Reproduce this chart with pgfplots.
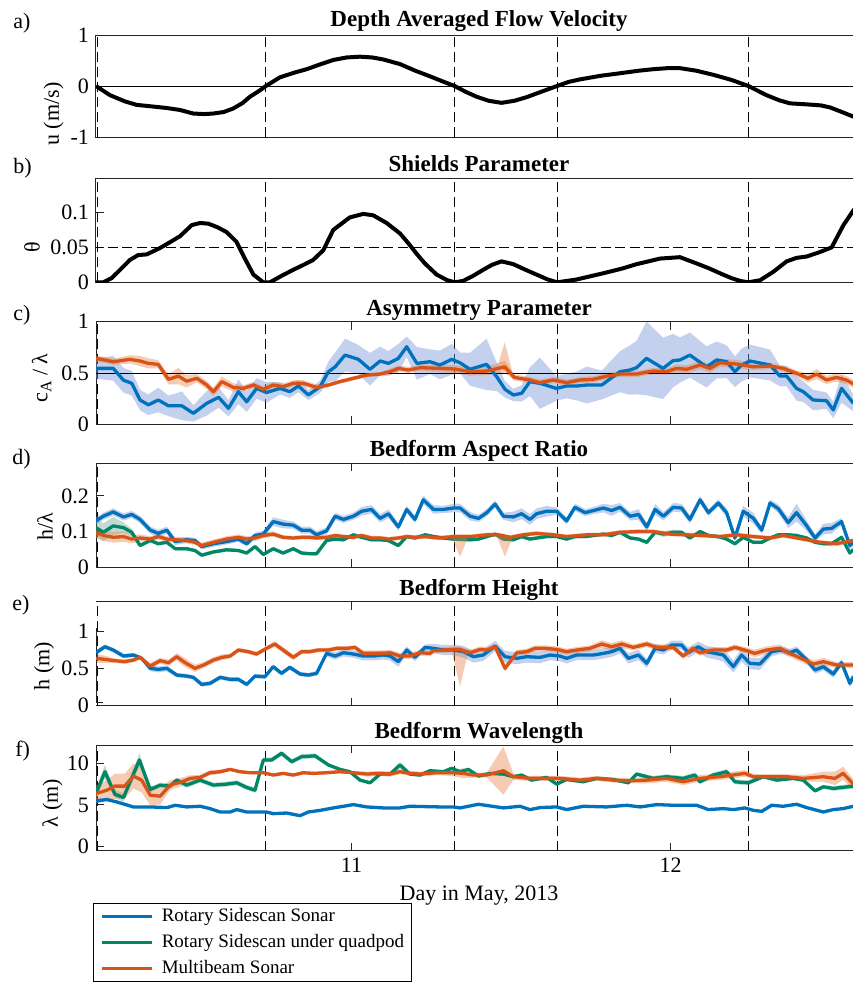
\documentclass[border=0pt]{standalone}
\usepackage{fontspec}
\setmainfont{Liberation Serif}
\usepackage{pgfplots}
\usepackage{pgfplotstable}
\pgfplotsset{compat=1.18}
\usepgfplotslibrary{fillbetween}

\definecolor{cblue}{rgb}{0,0.447,0.741}
\definecolor{corange}{rgb}{0.85,0.325,0.098}
\definecolor{cgreen}{rgb}{0,0.53,0.40}
\definecolor{bblue}{rgb}{0.48,0.60,0.85}
\definecolor{borange}{rgb}{0.90,0.50,0.25}
\definecolor{bgreen}{rgb}{0.30,0.60,0.50}

% ---------------- forcing ----------------
\pgfplotstableread{
t u
10.200 0.00
10.244 -0.18
10.290 -0.30
10.327 -0.37
10.359 -0.39
10.420 -0.43
10.463 -0.47
10.505 -0.54
10.540 -0.55
10.567 -0.54
10.600 -0.51
10.630 -0.44
10.660 -0.33
10.682 -0.21
10.710 -0.10
10.732 0.00
10.776 0.17
10.820 0.26
10.860 0.33
10.900 0.42
10.943 0.51
10.985 0.56
11.027 0.575
11.065 0.56
11.100 0.52
11.152 0.43
11.200 0.30
11.250 0.18
11.290 0.08
11.323 0.00
11.360 -0.12
11.392 -0.21
11.430 -0.29
11.470 -0.33
11.510 -0.29
11.548 -0.22
11.600 -0.10
11.644 0.00
11.680 0.08
11.716 0.13
11.780 0.20
11.841 0.25
11.900 0.30
11.946 0.33
11.990 0.35
12.029 0.35
12.080 0.30
12.133 0.22
12.190 0.12
12.243 0.00
12.300 -0.18
12.340 -0.28
12.373 -0.34
12.426 -0.36
12.470 -0.38
12.499 -0.42
12.540 -0.52
12.572 -0.60
12.600 -0.67
}\vel

\pgfplotstableread{
t s
10.200 0.000
10.223 0.000
10.249 0.006
10.280 0.020
10.306 0.032
10.332 0.039
10.359 0.040
10.400 0.049
10.430 0.057
10.463 0.066
10.500 0.082
10.526 0.085
10.552 0.084
10.580 0.079
10.609 0.072
10.640 0.058
10.665 0.035
10.693 0.011
10.724 0.000
10.745 0.000
10.780 0.009
10.818 0.018
10.850 0.025
10.880 0.032
10.912 0.046
10.943 0.075
10.995 0.093
11.037 0.098
11.068 0.096
11.110 0.085
11.152 0.070
11.180 0.055
11.204 0.041
11.230 0.027
11.267 0.011
11.300 0.003
11.323 0.000
11.350 0.002
11.380 0.009
11.413 0.018
11.440 0.025
11.470 0.030
11.507 0.026
11.545 0.018
11.580 0.011
11.615 0.004
11.644 0.000
11.705 0.004
11.789 0.013
11.850 0.020
11.893 0.026
11.930 0.030
11.966 0.034
12.029 0.036
12.081 0.027
12.120 0.020
12.154 0.013
12.190 0.006
12.217 0.002
12.243 0.000
12.280 0.003
12.321 0.015
12.363 0.030
12.394 0.035
12.426 0.037
12.465 0.043
12.504 0.050
12.541 0.082
12.572 0.103
12.600 0.120
}\shields

% ---------------- asymmetry ----------------
\pgfplotstableread{
t y e
10.200 0.545 0.10
10.254 0.545 0.12
10.286 0.430 0.12
10.312 0.400 0.12
10.338 0.237 0.10
10.364 0.190 0.10
10.395 0.237 0.12
10.427 0.180 0.10
10.469 0.180 0.14
10.505 0.107 0.08
10.547 0.205 0.12
10.584 0.263 0.10
10.615 0.156 0.08
10.646 0.318 0.12
10.672 0.220 0.10
10.703 0.350 0.10
10.734 0.310 0.10
10.776 0.350 0.06
10.807 0.318 0.06
10.834 0.373 0.06
10.865 0.286 0.05
10.902 0.367 0.06
10.928 0.513 0.10
10.949 0.560 0.14
10.980 0.675 0.16
11.022 0.633 0.14
11.058 0.536 0.16
11.090 0.617 0.14
11.116 0.594 0.12
11.147 0.643 0.14
11.173 0.756 0.10
11.205 0.594 0.16
11.246 0.610 0.12
11.277 0.578 0.14
11.314 0.633 0.15
11.340 0.600 0.10
11.371 0.536 0.16
11.423 0.584 0.25
11.455 0.464 0.14
11.481 0.341 0.08
11.507 0.286 0.06
11.533 0.302 0.08
11.559 0.416 0.14
11.590 0.400 0.25
11.642 0.350 0.12
11.674 0.373 0.12
11.705 0.373 0.14
11.737 0.383 0.18
11.784 0.383 0.14
11.841 0.513 0.20
11.872 0.529 0.24
11.893 0.552 0.26
11.924 0.643 0.36
11.976 0.545 0.30
12.007 0.620 0.26
12.029 0.627 0.22
12.060 0.675 0.22
12.112 0.560 0.20
12.144 0.627 0.18
12.175 0.610 0.16
12.201 0.513 0.15
12.222 0.578 0.16
12.248 0.617 0.16
12.311 0.578 0.15
12.342 0.470 0.10
12.363 0.470 0.10
12.394 0.350 0.12
12.415 0.318 0.10
12.446 0.237 0.10
12.488 0.230 0.08
12.509 0.140 0.08
12.535 0.350 0.14
12.572 0.205 0.08
}\cB

\pgfplotstableread{
t y e
10.200 0.643 0.03
10.254 0.610 0.03
10.306 0.633 0.04
10.338 0.617 0.05
10.364 0.594 0.05
10.395 0.584 0.04
10.427 0.438 0.05
10.458 0.470 0.08
10.484 0.420 0.06
10.516 0.448 0.04
10.547 0.383 0.04
10.568 0.318 0.04
10.594 0.416 0.05
10.630 0.360 0.04
10.661 0.350 0.03
10.693 0.383 0.03
10.724 0.341 0.03
10.755 0.383 0.03
10.786 0.367 0.03
10.818 0.400 0.03
10.849 0.400 0.03
10.891 0.360 0.03
10.928 0.383 0.02
10.964 0.416 0.02
11.006 0.448 0.02
11.048 0.480 0.02
11.090 0.490 0.02
11.121 0.513 0.03
11.147 0.545 0.03
11.178 0.529 0.03
11.215 0.552 0.03
11.277 0.545 0.04
11.324 0.539 0.04
11.371 0.513 0.04
11.423 0.519 0.04
11.480 0.560 0.06
11.510 0.457 0.03
11.559 0.432 0.03
11.590 0.406 0.03
11.632 0.432 0.03
11.674 0.406 0.03
11.716 0.432 0.03
11.757 0.438 0.03
11.800 0.470 0.03
11.841 0.490 0.03
11.893 0.490 0.03
11.945 0.519 0.03
11.987 0.513 0.03
12.018 0.545 0.04
12.050 0.536 0.04
12.092 0.578 0.04
12.123 0.545 0.04
12.154 0.600 0.04
12.206 0.588 0.04
12.259 0.560 0.03
12.311 0.568 0.03
12.352 0.545 0.03
12.394 0.497 0.03
12.430 0.448 0.04
12.457 0.490 0.05
12.488 0.432 0.04
12.519 0.457 0.04
12.550 0.432 0.04
12.572 0.393 0.04
}\cO

% ---------------- aspect ratio ----------------
\pgfplotstableread{
t y e
10.200 0.130 0.010
10.223 0.143 0.010
10.254 0.155 0.010
10.286 0.141 0.010
10.312 0.148 0.010
10.338 0.134 0.010
10.370 0.104 0.010
10.395 0.095 0.010
10.422 0.104 0.010
10.448 0.072 0.010
10.484 0.077 0.008
10.510 0.075 0.008
10.531 0.058 0.008
10.568 0.066 0.008
10.609 0.072 0.008
10.646 0.079 0.008
10.672 0.066 0.008
10.698 0.089 0.008
10.724 0.093 0.010
10.755 0.128 0.012
10.786 0.121 0.012
10.818 0.118 0.010
10.844 0.104 0.010
10.870 0.104 0.010
10.891 0.091 0.010
10.922 0.102 0.010
10.949 0.143 0.010
10.975 0.134 0.010
11.006 0.143 0.010
11.032 0.157 0.012
11.063 0.162 0.012
11.090 0.137 0.012
11.116 0.150 0.012
11.147 0.113 0.010
11.173 0.162 0.010
11.199 0.134 0.010
11.225 0.189 0.012
11.257 0.162 0.012
11.288 0.162 0.010
11.319 0.166 0.012
11.340 0.166 0.012
11.372 0.143 0.012
11.398 0.137 0.010
11.424 0.153 0.010
11.450 0.177 0.010
11.476 0.143 0.010
11.507 0.141 0.015
11.533 0.150 0.015
11.559 0.134 0.015
11.580 0.150 0.015
11.611 0.157 0.015
11.643 0.157 0.010
11.674 0.130 0.010
11.700 0.168 0.010
11.732 0.153 0.010
11.758 0.159 0.010
11.789 0.166 0.012
11.815 0.159 0.015
11.841 0.168 0.012
11.873 0.143 0.012
11.899 0.148 0.015
11.925 0.113 0.012
11.951 0.162 0.015
11.977 0.143 0.012
12.008 0.168 0.012
12.034 0.166 0.012
12.060 0.134 0.012
12.092 0.189 0.010
12.118 0.153 0.010
12.149 0.180 0.010
12.175 0.153 0.012
12.201 0.082 0.010
12.227 0.157 0.015
12.259 0.137 0.015
12.285 0.104 0.010
12.311 0.180 0.010
12.337 0.164 0.012
12.368 0.125 0.015
12.394 0.153 0.025
12.426 0.116 0.015
12.452 0.082 0.010
12.478 0.107 0.015
12.504 0.109 0.015
12.535 0.128 0.010
12.561 0.061 0.010
12.572 0.070 0.010
}\dB

\pgfplotstableread{
t y e
10.200 0.111 0.025
10.223 0.098 0.025
10.254 0.116 0.025
10.286 0.111 0.015
10.312 0.098 0.010
10.338 0.061 0.005
10.370 0.075 0.005
10.395 0.066 0.005
10.422 0.070 0.005
10.448 0.052 0.005
10.484 0.052 0.005
10.510 0.047 0.005
10.531 0.034 0.005
10.568 0.043 0.005
10.609 0.049 0.005
10.646 0.047 0.005
10.672 0.040 0.005
10.698 0.058 0.005
10.724 0.036 0.005
10.755 0.052 0.005
10.786 0.040 0.005
10.818 0.052 0.005
10.844 0.040 0.005
10.870 0.038 0.005
10.891 0.038 0.005
10.922 0.075 0.005
10.949 0.079 0.005
10.975 0.077 0.005
11.006 0.091 0.005
11.032 0.084 0.005
11.063 0.077 0.005
11.090 0.077 0.005
11.116 0.075 0.005
11.147 0.061 0.005
11.173 0.086 0.005
11.199 0.082 0.005
11.231 0.091 0.005
11.257 0.086 0.005
11.288 0.082 0.005
11.319 0.079 0.005
11.372 0.077 0.005
11.398 0.079 0.005
11.424 0.086 0.005
11.450 0.093 0.005
11.476 0.079 0.005
11.507 0.077 0.005
11.533 0.086 0.005
11.559 0.079 0.005
11.580 0.082 0.005
11.611 0.086 0.005
11.643 0.086 0.005
11.674 0.079 0.005
11.700 0.086 0.005
11.732 0.086 0.005
11.758 0.089 0.005
11.789 0.093 0.005
11.815 0.089 0.005
11.841 0.098 0.005
11.873 0.082 0.005
11.899 0.079 0.005
11.925 0.070 0.005
11.951 0.098 0.005
11.977 0.093 0.008
12.008 0.098 0.008
12.034 0.098 0.005
12.060 0.082 0.005
12.092 0.100 0.005
12.118 0.089 0.005
12.149 0.086 0.005
12.175 0.079 0.005
12.201 0.066 0.005
12.227 0.084 0.005
12.259 0.070 0.005
12.285 0.070 0.005
12.311 0.082 0.005
12.337 0.091 0.005
12.368 0.091 0.005
12.394 0.089 0.005
12.426 0.082 0.005
12.452 0.070 0.005
12.478 0.066 0.005
12.504 0.066 0.005
12.535 0.084 0.005
12.561 0.040 0.005
12.572 0.050 0.005
}\dG

\pgfplotstableread{
t y e
10.200 0.098 0.015
10.223 0.089 0.015
10.254 0.084 0.015
10.286 0.086 0.015
10.312 0.079 0.012
10.338 0.082 0.010
10.370 0.079 0.008
10.395 0.086 0.008
10.422 0.079 0.008
10.448 0.077 0.008
10.484 0.075 0.008
10.510 0.070 0.008
10.531 0.061 0.008
10.568 0.070 0.008
10.609 0.079 0.008
10.646 0.084 0.008
10.672 0.079 0.008
10.698 0.082 0.008
10.724 0.089 0.008
10.755 0.093 0.008
10.786 0.084 0.006
10.818 0.082 0.006
10.844 0.084 0.006
10.870 0.084 0.006
10.891 0.082 0.006
10.922 0.084 0.006
10.949 0.089 0.006
10.975 0.086 0.006
11.006 0.084 0.006
11.032 0.089 0.006
11.063 0.082 0.006
11.090 0.082 0.006
11.116 0.079 0.006
11.147 0.082 0.006
11.173 0.086 0.006
11.199 0.084 0.006
11.231 0.086 0.006
11.272 0.082 0.006
11.319 0.086 0.006
11.372 0.086 0.006
11.424 0.091 0.006
11.460 0.091 0.006
11.498 0.084 0.006
11.538 0.091 0.006
11.580 0.095 0.006
11.632 0.091 0.006
11.674 0.086 0.006
11.737 0.091 0.006
11.789 0.091 0.006
11.841 0.098 0.006
11.893 0.100 0.006
11.945 0.100 0.006
11.998 0.093 0.006
12.050 0.091 0.006
12.102 0.089 0.006
12.154 0.086 0.006
12.206 0.091 0.006
12.259 0.086 0.006
12.311 0.082 0.006
12.353 0.089 0.006
12.415 0.079 0.006
12.467 0.070 0.006
12.519 0.066 0.006
12.572 0.075 0.006
}\dO

% ---------------- height ----------------
\pgfplotstableread{
t y e
10.200 0.716 0.04
10.228 0.797 0.03
10.254 0.752 0.03
10.286 0.671 0.03
10.317 0.685 0.03
10.343 0.640 0.03
10.370 0.505 0.04
10.395 0.491 0.04
10.422 0.505 0.04
10.453 0.414 0.03
10.484 0.400 0.03
10.505 0.383 0.03
10.531 0.288 0.03
10.557 0.302 0.03
10.589 0.383 0.03
10.620 0.356 0.03
10.646 0.356 0.03
10.672 0.288 0.03
10.698 0.400 0.03
10.729 0.392 0.03
10.755 0.527 0.03
10.781 0.437 0.03
10.807 0.518 0.03
10.839 0.428 0.03
10.865 0.414 0.03
10.891 0.437 0.03
10.922 0.707 0.04
10.949 0.671 0.05
10.975 0.716 0.05
11.006 0.698 0.05
11.037 0.671 0.06
11.069 0.671 0.06
11.100 0.685 0.06
11.121 0.671 0.06
11.147 0.595 0.07
11.173 0.752 0.05
11.199 0.653 0.05
11.231 0.788 0.04
11.257 0.775 0.06
11.288 0.752 0.07
11.319 0.752 0.07
11.350 0.730 0.08
11.382 0.662 0.08
11.413 0.685 0.08
11.450 0.806 0.07
11.481 0.662 0.08
11.518 0.640 0.08
11.549 0.662 0.08
11.591 0.653 0.08
11.622 0.685 0.07
11.653 0.671 0.07
11.674 0.640 0.07
11.705 0.685 0.07
11.758 0.685 0.07
11.789 0.707 0.07
11.815 0.730 0.07
11.841 0.775 0.07
11.867 0.640 0.07
11.899 0.685 0.07
11.925 0.572 0.06
11.951 0.775 0.06
11.977 0.752 0.06
12.003 0.820 0.06
12.034 0.820 0.06
12.055 0.716 0.07
12.086 0.797 0.07
12.112 0.730 0.08
12.139 0.707 0.08
12.165 0.685 0.09
12.196 0.527 0.08
12.222 0.685 0.09
12.248 0.572 0.08
12.279 0.563 0.08
12.316 0.730 0.06
12.347 0.752 0.05
12.373 0.716 0.05
12.394 0.752 0.05
12.426 0.617 0.05
12.452 0.482 0.05
12.478 0.527 0.05
12.509 0.428 0.05
12.535 0.581 0.05
12.561 0.302 0.05
12.572 0.392 0.05
}\eB

\pgfplotstableread{
t y e
10.200 0.640 0.06
10.228 0.626 0.05
10.259 0.608 0.03
10.290 0.595 0.03
10.317 0.617 0.03
10.338 0.653 0.03
10.370 0.536 0.04
10.401 0.608 0.04
10.427 0.581 0.04
10.453 0.662 0.05
10.479 0.581 0.06
10.510 0.505 0.05
10.537 0.550 0.04
10.568 0.617 0.04
10.594 0.653 0.04
10.620 0.671 0.03
10.646 0.752 0.03
10.677 0.730 0.03
10.703 0.698 0.03
10.734 0.775 0.03
10.760 0.833 0.04
10.786 0.752 0.04
10.818 0.653 0.04
10.844 0.730 0.03
10.870 0.730 0.03
10.896 0.752 0.03
10.928 0.752 0.03
10.954 0.775 0.03
10.985 0.775 0.03
11.011 0.788 0.03
11.037 0.707 0.04
11.069 0.707 0.04
11.100 0.707 0.04
11.121 0.716 0.04
11.152 0.671 0.04
11.183 0.671 0.04
11.215 0.716 0.04
11.246 0.707 0.04
11.257 0.743 0.04
11.288 0.752 0.04
11.319 0.761 0.04
11.340 0.761 0.04
11.372 0.716 0.04
11.403 0.761 0.04
11.424 0.752 0.04
11.450 0.797 0.04
11.481 0.505 0.04
11.518 0.716 0.04
11.549 0.730 0.04
11.575 0.775 0.04
11.606 0.775 0.04
11.643 0.761 0.04
11.674 0.730 0.04
11.705 0.752 0.04
11.747 0.775 0.04
11.784 0.833 0.05
11.815 0.797 0.05
11.846 0.833 0.05
11.883 0.788 0.04
11.925 0.833 0.04
11.956 0.788 0.04
11.987 0.788 0.04
12.008 0.788 0.04
12.039 0.671 0.04
12.070 0.775 0.04
12.091 0.716 0.04
12.133 0.752 0.04
12.175 0.752 0.04
12.201 0.788 0.04
12.232 0.752 0.04
12.263 0.707 0.05
12.300 0.752 0.05
12.342 0.775 0.05
12.373 0.707 0.05
12.415 0.626 0.05
12.447 0.563 0.05
12.478 0.595 0.05
12.519 0.550 0.04
12.572 0.550 0.04
}\eO

% ---------------- wavelength ----------------
\pgfplotstableread{
t y e
10.200 5.48 0.30
10.234 5.65 0.20
10.265 5.36 0.15
10.317 4.76 0.10
10.370 4.76 0.10
10.422 4.68 0.10
10.448 4.96 0.10
10.484 4.76 0.10
10.526 4.84 0.10
10.557 4.56 0.10
10.589 4.15 0.10
10.620 4.15 0.10
10.641 4.44 0.10
10.672 4.15 0.10
10.703 4.15 0.10
10.734 4.15 0.10
10.755 3.95 0.10
10.797 4.03 0.10
10.839 3.71 0.10
10.865 4.15 0.10
10.902 4.35 0.10
10.943 4.64 0.10
10.975 4.84 0.10
11.006 5.04 0.10
11.048 4.76 0.10
11.100 4.64 0.10
11.152 4.64 0.10
11.183 4.84 0.10
11.277 4.76 0.10
11.319 4.76 0.10
11.340 4.64 0.10
11.398 5.08 0.10
11.476 4.64 0.10
11.528 4.84 0.10
11.559 4.44 0.10
11.591 4.68 0.10
11.643 4.76 0.10
11.674 4.44 0.10
11.726 4.84 0.10
11.799 4.76 0.10
11.862 4.96 0.10
11.904 4.76 0.10
11.956 5.04 0.10
12.008 4.96 0.10
12.081 4.96 0.10
12.118 4.44 0.10
12.165 4.56 0.10
12.196 4.44 0.10
12.232 4.64 0.10
12.259 4.35 0.10
12.285 4.23 0.10
12.316 4.96 0.10
12.352 4.84 0.10
12.394 5.08 0.10
12.426 4.68 0.10
12.478 4.15 0.10
12.509 4.44 0.10
12.540 4.56 0.10
12.572 4.84 0.10
}\fB

\pgfplotstableread{
t y e
10.200 6.37 0.50
10.228 8.99 0.80
10.259 6.29 0.50
10.286 5.89 0.50
10.336 10.40 0.80
10.370 6.85 0.30
10.401 7.38 0.30
10.432 7.26 0.30
10.453 7.98 0.30
10.484 7.38 0.30
10.526 7.98 0.30
10.568 7.38 0.30
10.609 7.50 0.30
10.641 7.66 0.30
10.672 7.10 0.30
10.698 6.77 0.30
10.724 10.40 0.30
10.750 10.40 0.30
10.781 11.20 0.30
10.813 10.20 0.30
10.844 10.80 0.30
10.886 10.90 0.30
10.928 9.80 0.20
10.964 9.27 0.20
10.995 8.99 0.20
11.027 7.98 0.20
11.058 7.66 0.20
11.090 8.71 0.20
11.121 8.71 0.20
11.152 9.80 0.40
11.183 8.71 0.20
11.215 8.59 0.20
11.246 9.11 0.20
11.288 8.99 0.20
11.314 9.40 0.20
11.340 8.99 0.20
11.366 9.27 0.20
11.398 8.47 0.20
11.434 8.79 0.20
11.476 8.71 0.20
11.507 8.39 0.20
11.533 8.59 0.20
11.564 7.98 0.20
11.611 8.31 0.20
11.643 7.50 0.20
11.674 8.06 0.20
11.726 7.78 0.20
11.768 8.19 0.20
11.820 8.06 0.20
11.867 7.66 0.20
11.893 8.71 0.20
11.945 8.19 0.30
11.987 8.39 0.30
12.039 8.19 0.30
12.076 8.59 0.30
12.091 7.78 0.30
12.133 8.59 0.30
12.175 8.99 0.30
12.201 7.78 0.30
12.243 7.66 0.30
12.290 8.39 0.20
12.332 7.98 0.20
12.384 8.19 0.20
12.415 7.98 0.20
12.452 6.69 0.20
12.478 7.18 0.20
12.509 6.98 0.30
12.572 7.26 0.30
}\fG

\pgfplotstableread{
t y e
10.200 6.37 1.00
10.234 6.77 1.20
10.259 7.26 1.50
10.290 7.26 1.50
10.317 8.47 1.50
10.343 7.98 1.50
10.370 6.17 1.20
10.401 6.05 1.00
10.432 7.38 0.60
10.469 7.78 0.50
10.495 8.19 0.40
10.526 8.31 0.30
10.557 8.87 0.30
10.589 8.99 0.25
10.620 9.27 0.20
10.651 8.99 0.20
10.682 8.87 0.20
10.724 8.87 0.20
10.755 8.59 0.20
10.786 8.79 0.20
10.818 8.59 0.20
10.849 8.87 0.20
10.881 8.79 0.20
10.922 8.87 0.20
10.964 8.99 0.20
11.006 8.87 0.20
11.048 8.71 0.30
11.090 8.79 0.30
11.121 8.71 0.30
11.152 8.99 0.30
11.183 8.79 0.30
11.215 8.71 0.30
11.267 8.87 0.30
11.319 8.87 0.40
11.350 8.79 0.60
11.382 8.59 0.30
11.424 8.59 0.30
11.476 9.11 2.90
11.507 8.39 0.40
11.559 8.19 0.30
11.611 8.19 0.30
11.653 8.19 0.30
11.716 7.98 0.30
11.768 8.19 0.30
11.820 7.98 0.30
11.872 7.90 0.30
11.925 7.98 0.40
11.987 8.19 0.40
12.039 7.78 0.40
12.091 8.19 0.40
12.154 8.39 0.40
12.232 8.79 0.40
12.259 8.39 0.30
12.311 8.39 0.30
12.363 8.39 0.30
12.415 8.19 0.40
12.478 8.39 0.60
12.514 8.19 0.80
12.540 8.79 0.80
12.572 7.50 0.60
}\fO

\pgfplotsset{
  panel/.style={
    scale only axis, width=383pt, anchor=north west,
    xmin=10.2, xmax=12.599,
    axis line style={black!85, line width=0.5pt},
    tick style={black!85, line width=0.5pt},
    tick align=inside, major tick length=4pt,
    xtick={11,12}, xticklabels={},
    scaled ticks=false,
    ticklabel style={font=\fontsize{11}{12}\selectfont},
    /pgf/number format/assume math mode=true,
    title style={font=\bfseries\fontsize{11.5}{13}\selectfont,
                 at={(0.5,1)}, anchor=base, yshift=-2.7pt},
    label style={font=\fontsize{11}{12}\selectfont},
    ylabel style={anchor=center},
    extra x ticks={10.205,10.732,11.323,11.644,12.243},
    extra x tick labels={},
    extra x tick style={grid=major, major tick length=0pt,
      major grid style={black, line width=0.5pt, dash pattern=on 5pt off 2.5pt}},
  },
  dataline/.style={line width=1.65pt, line join=round},
}

% band (mean +/- spread) followed by its line
\newcommand{\shaded}[5]{%
  \addplot[draw=none, forget plot, name path=#5up] table[x=t, y expr=\thisrow{y}+\thisrow{e}] {#1};
  \addplot[draw=none, forget plot, name path=#5dn] table[x=t, y expr=\thisrow{y}-\thisrow{e}] {#1};
  \addplot[fill=#2, fill opacity=#3, draw=none, forget plot] fill between[of=#5up and #5dn];
  \addplot[dataline, #4, forget plot] table[x=t, y=y] {#1};
}

\begin{document}
\begin{tikzpicture}

% a) velocity
\begin{axis}[panel, at={(48pt,-17.5pt)}, height=51pt,
  ymin=-1, ymax=1, ytick={-1,0,1}, yticklabels={-1,0,1}, xtick=\empty,
  title={Depth Averaged Flow Velocity}, title style={yshift=1.2pt},
  ylabel={u (m/s)}, ylabel style={at={(axis description cs:-0.0555,0.225)}}]
\addplot[black, line width=0.5pt, forget plot] coordinates {(10.1,0) (12.7,0)};
\addplot[black, line width=2pt, line join=round, forget plot] table[x=t, y=u] {\vel};
\end{axis}

% b) Shields parameter
\begin{axis}[panel, at={(48pt,-89.15pt)}, height=52pt,
  ymin=0, ymax=0.149, ytick={0,0.05,0.1}, yticklabels={0,0.05,0.1}, xtick=\empty,
  title={Shields Parameter},
  ylabel={θ}, ylabel style={at={(axis description cs:-0.0836,0.335)}}]
\addplot[black, line width=0.5pt, dash pattern=on 5pt off 2.25pt, forget plot] coordinates {(10.1,0.05) (12.7,0.05)};
\addplot[black, line width=2pt, line join=round, forget plot] table[x=t, y=s] {\shields};
\end{axis}

% c) asymmetry
\begin{axis}[panel, at={(48pt,-160.85pt)}, height=51.3pt,
  ymin=0, ymax=1, ytick={0,0.5,1}, yticklabels={0,0.5,1},
  title={Asymmetry Parameter},
  ylabel={c\raisebox{-0.4ex}{\fontsize{8}{9}\selectfont A} / λ},
  ylabel style={at={(axis description cs:-0.0711,0.451)}}]
\addplot[black, line width=0.5pt, forget plot] coordinates {(10.1,0.5) (12.7,0.5)};
\shaded{\cB}{bblue}{0.45}{cblue}{cb}
\addplot[fill=borange, fill opacity=0.4, draw=none, forget plot] coordinates {(11.455,0.54) (11.480,0.80) (11.505,0.50)} -- cycle;
\shaded{\cO}{borange}{0.4}{corange}{co}
\end{axis}

% d) aspect ratio
\begin{axis}[panel, at={(48pt,-231.5pt)}, height=52.15pt,
  ymin=0, ymax=0.292, ytick={0,0.1,0.2}, yticklabels={0,0.1,0.2},
  title={Bedform Aspect Ratio},
  ylabel={h/λ}, ylabel style={at={(axis description cs:-0.0666,0.386)}}]
\shaded{\dB}{bblue}{0.45}{cblue}{db}
\shaded{\dG}{bgreen}{0.35}{cgreen}{dg}
\addplot[fill=borange, fill opacity=0.4, draw=none, forget plot] coordinates {(11.315,0.082) (11.340,0.029) (11.365,0.084)} -- cycle;
\addplot[fill=borange, fill opacity=0.4, draw=none, forget plot] coordinates {(11.455,0.088) (11.481,0.029) (11.505,0.085)} -- cycle;
\shaded{\dO}{borange}{0.4}{corange}{do}
\end{axis}

% e) height -- its left spine is drawn short, from 0.045 to 1.045
\begin{axis}[panel, at={(48pt,-300.85pt)}, height=52pt,
  separate axis lines, y axis line style={draw=none},
  ymin=0, ymax=1.405, ytick={0,0.5,1}, yticklabels={0,0.5,1},
  title={Bedform Height},
  ylabel={h (m)}, ylabel style={at={(axis description cs:-0.0679,0.382)}},
  clip mode=individual]
\addplot[black!85, line width=0.5pt, forget plot] coordinates {(10.2,1.045) (10.2,0.045) (10.223,0.045)};
\shaded{\eB}{bblue}{0.45}{cblue}{eb}
\addplot[fill=borange, fill opacity=0.4, draw=none, forget plot] coordinates {(11.315,0.72) (11.340,0.257) (11.365,0.72)} -- cycle;
\shaded{\eO}{borange}{0.4}{corange}{eo}
\end{axis}

% f) wavelength
\begin{axis}[panel, at={(48pt,-372.5pt)}, height=52.85pt,
  ymin=-0.5, ymax=12.2, ytick={0,5,10}, yticklabels={0,5,10},
  xticklabels={11,12},
  title={Bedform Wavelength},
  xlabel={Day in May, 2013},
  ylabel={λ (m)}, ylabel style={at={(axis description cs:-0.0568,0.451)}},
  legend cell align=left,
  legend image code/.code={\draw[#1] (0pt,0pt) -- (25pt,0pt);},
  legend style={at={(axis description cs:-0.0039,-0.4948)}, anchor=north west,
    draw=black, line width=0.5pt, fill=white,
    font=\fontsize{9.5}{11}\selectfont,
    inner xsep=3.5pt, inner ysep=2.25pt, row sep=4.5pt, column sep=4pt,
    nodes={inner sep=0pt, text height=6.5pt, text depth=2pt}}]
\shaded{\fB}{bblue}{0.45}{cblue}{fb}
\shaded{\fG}{bgreen}{0.35}{cgreen}{fg}
\shaded{\fO}{borange}{0.4}{corange}{fo}
\addlegendimage{cblue, line width=1.65pt}
\addlegendentry{Rotary Sidescan Sonar}
\addlegendimage{cgreen, line width=1.65pt}
\addlegendentry{Rotary Sidescan under quadpod}
\addlegendimage{corange, line width=1.65pt}
\addlegendentry{Multibeam Sonar}
\end{axis}

% panel letters
\begin{scope}[every node/.style={anchor=base west, inner sep=0pt, font=\fontsize{11}{12}\selectfont}]
\node at (6.5pt,-14.15pt) {a)};
\node at (6.5pt,-86.65pt) {b)};
\node at (6.5pt,-160.35pt) {c)};
\node at (6pt,-232pt) {d)};
\node at (6pt,-305.35pt) {e)};
\node at (7.5pt,-378.35pt) {f)};
\end{scope}

\pgfresetboundingbox
\path[use as bounding box] (0pt,0pt) rectangle (426.5pt,-491pt);
\end{tikzpicture}
\end{document}
